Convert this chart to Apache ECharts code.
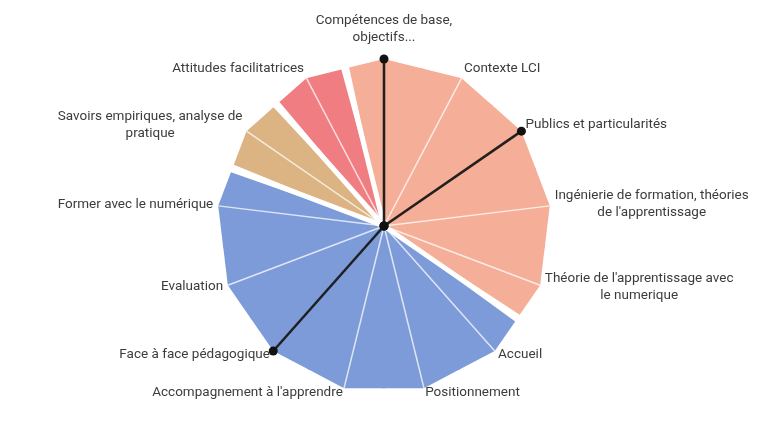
<!DOCTYPE html>
<html>

<head>
    <meta charset="utf-8">
    <title>Compétences</title>
    <script src="https://cdn.jsdelivr.net/npm/echarts@6/dist/echarts.min.js"></script>
    <style>
        html, body {
            margin: 0;
            padding: 0;
            background: #fff;
        }

        #main {
            width: 779px;
            height: 428px;
        }
    </style>
</head>

<body>
    <div id="main"></div>

    <script type="text/javascript">
        // catégories, dans le sens horaire depuis le haut
        var categories = [
            'Compétences de base,\nobjectifs...',
            'Contexte LCI',
            'Publics et particularités',
            'Ingénierie de formation, théories\nde l\'apprentissage',
            'Théorie de l\'apprentissage avec\nle numerique',
            'Accueil',
            'Positionnement',
            'Accompagnement à l\'apprendre',
            'Face à face pédagogique',
            'Evaluation',
            'Former avec le numérique',
            'Savoirs empiriques, analyse de\npratique',
            'Attitudes facilitatrices'
        ];
        var values = [1, 1, 1, 1, 1, 1, 1, 1, 1, 1, 1, 1, 1];
        // groupe (couleur) de chaque catégorie
        var groups = [0, 0, 0, 0, 0, 1, 1, 1, 1, 1, 1, 2, 3];
        var groupColors = ['#F5AE97', '#7C9BD8', '#DCB483', '#F07D82'];
        // catégories marquées d'un rayon noir
        var highlighted = [0, 2, 8];

        var n = categories.length;
        var GAP = 0.05;

        function vertex(api, i) {
            var k = (i + n) % n;
            return api.coord([values[k], i]);
        }

        function lerp(a, b, t) {
            return [a[0] + (b[0] - a[0]) * t, a[1] + (b[1] - a[1]) * t];
        }

        function renderSector(params, api) {
            var i = params.dataIndex;
            var c = api.coord([0, i]);
            var v = vertex(api, i);
            var prevSame = groups[(i + n - 1) % n] === groups[i];
            var nextSame = groups[(i + 1) % n] === groups[i];
            var p0 = lerp(v, vertex(api, i - 1), prevSame ? 0.52 : 0.5 - GAP);
            var p1 = lerp(v, vertex(api, i + 1), nextSame ? 0.52 : 0.5 - GAP);
            return {
                type: 'polygon',
                shape: { points: [[c[0], c[1]], p0, [v[0], v[1]], p1] },
                style: { fill: groupColors[groups[i]] }
            };
        }

        function renderGap(params, api) {
            var i = params.dataIndex;
            if (groups[(i + 1) % n] === groups[i]) return null;
            var c = api.coord([0, i]);
            var m = lerp(vertex(api, i), vertex(api, i + 1), 0.5);
            var e = lerp(c, m, 1.05);
            return {
                type: 'line',
                shape: { x1: c[0], y1: c[1], x2: e[0], y2: e[1] },
                style: { stroke: '#fff', lineWidth: 5 }
            };
        }

        function renderSpoke(params, api) {
            var i = params.dataIndex;
            var c = api.coord([0, i]);
            var v = vertex(api, i);
            return {
                type: 'line',
                shape: { x1: c[0], y1: c[1], x2: v[0], y2: v[1] },
                style: { stroke: 'rgba(255,255,255,0.75)', lineWidth: 1.5 }
            };
        }

        function renderHighlight(params, api) {
            var r = api.value(0);
            var a = api.value(1);
            var c = api.coord([0, a]);
            var v = api.coord([r, a]);
            return {
                type: 'group',
                children: [{
                    type: 'line',
                    shape: { x1: c[0], y1: c[1], x2: v[0], y2: v[1] },
                    style: { stroke: 'rgba(10,10,10,0.9)', lineWidth: 2.5 }
                }, {
                    type: 'circle',
                    shape: { cx: v[0], cy: v[1], r: 4.5 },
                    style: { fill: '#111' }
                }, {
                    type: 'circle',
                    shape: { cx: c[0], cy: c[1], r: 4.5 },
                    style: { fill: '#111' }
                }]
            };
        }

        function renderLabel(params, api) {
            var i = params.dataIndex;
            var c = api.coord([0, i]);
            var v = vertex(api, i);
            var dx = v[0] - c[0], dy = v[1] - c[1];
            var len = Math.sqrt(dx * dx + dy * dy);
            var ux = dx / len, uy = dy / len;
            var top = uy < -0.99;
            var gap = top ? 13 : 5;
            var x = v[0] + ux * gap;
            var y = v[1] + uy * gap;
            if (!top && uy < 0) y += uy * 6;
            var align = Math.abs(ux) < 0.1 ? 'center' : (ux > 0 ? 'left' : 'right');
            var text = categories[i].split('\n').map(function (l) {
                return '{c|' + l + '}';
            }).join('\n');
            return {
                type: 'text',
                style: {
                    text: text,
                    x: x,
                    y: y,
                    align: align,
                    verticalAlign: top ? 'bottom' : 'middle',
                    font: '13.5px Roboto',
                    fill: '#3c3c3c',
                    lineHeight: 17,
                    rich: { c: { align: 'center', lineHeight: 17 } }
                }
            };
        }

        var seriesData = categories.map(function (name, i) {
            return [values[i], i];
        });
        var highlightData = highlighted.map(function (i) {
            return [values[i], i];
        });

        var myChart = echarts.init(document.getElementById('main'));

        var option = {
            animation: false,
            backgroundColor: '#fff',
            polar: {
                center: [384, 226],
                radius: 167
            },
            angleAxis: {
                type: 'value',
                min: 0,
                max: n,
                startAngle: 90,
                clockwise: true,
                axisLine: { show: false },
                axisTick: { show: false },
                axisLabel: { show: false },
                splitLine: { show: false }
            },
            radiusAxis: {
                type: 'value',
                min: 0,
                max: 1,
                axisLine: { show: false },
                axisTick: { show: false },
                axisLabel: { show: false },
                splitLine: { show: false }
            },
            series: [
                { type: 'custom', coordinateSystem: 'polar', z: 2, data: seriesData, renderItem: renderSector },
                { type: 'custom', coordinateSystem: 'polar', z: 3, data: seriesData, renderItem: renderGap },
                { type: 'custom', coordinateSystem: 'polar', z: 4, data: seriesData, renderItem: renderSpoke },
                { type: 'custom', coordinateSystem: 'polar', z: 5, data: highlightData, renderItem: renderHighlight },
                { type: 'custom', coordinateSystem: 'polar', z: 6, data: seriesData, renderItem: renderLabel }
            ]
        };

        myChart.setOption(option);
    </script>
</body>

</html>
